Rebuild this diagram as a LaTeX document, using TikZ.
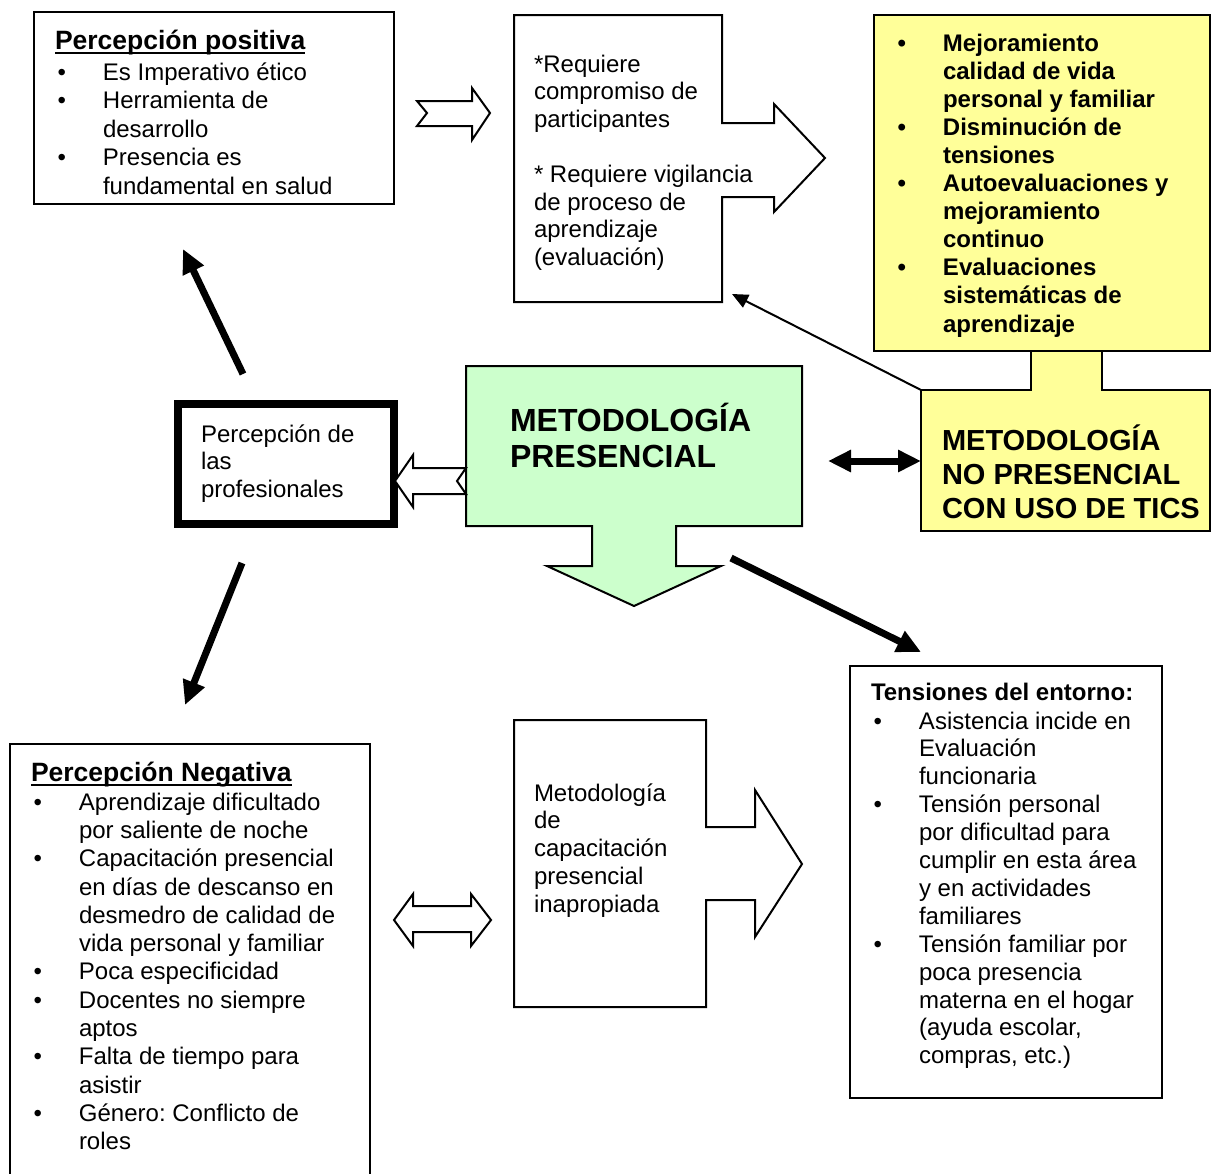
\documentclass[tikz,border=0pt]{standalone}
\usepackage{fontspec}
\setmainfont{Liberation Sans}
\usetikzlibrary{arrows.meta}
\definecolor{ylw}{HTML}{FFFF99}
\definecolor{grn}{HTML}{CCFFCC}
\frenchspacing
\newcommand{\bitem}[1]{\hbox{\llap{\textbullet\hspace{37pt}}#1}}
\newcommand{\citem}[1]{\hbox{#1}}
\newcommand{\blk}[2]{\vtop{\baselineskip=#1\lineskiplimit=-100pt\lineskip=0pt #2}}
\newcommand{\ulttl}[1]{\setbox0=\hbox{#1}\rlap{\rule[-5pt]{\wd0}{2pt}}\box0}
\begin{document}
\begin{tikzpicture}[x=1pt,y=-1pt,line join=miter,
  box/.style={draw,line width=2pt,inner sep=0pt,outer sep=0pt,anchor=north west},
  shp/.style={draw,line width=2pt},
  txt/.style={anchor=base west,inner sep=0pt,outer sep=0pt,font=\fontsize{24}{28}\selectfont},
  thk/.style={line width=7pt,-{Triangle[length=24pt,width=22pt]}},
  thin/.style={line width=2pt,-{Triangle[length=16pt,width=14pt]}}]
\useasboundingbox (0,0) rectangle (1212,1173);
% ---- boxes ----
\node[box,minimum width=360pt,minimum height=192pt] (pos) at (34,12) {};
\node[box,fill=ylw,minimum width=336pt,minimum height=336pt] (ytop) at (874,15) {};
\node[box,line width=8pt,minimum width=216pt,minimum height=120pt] (prof) at (178,404) {};
\node[box,minimum width=360pt,minimum height=436pt] (neg) at (10,744) {};
\node[box,minimum width=312pt,minimum height=432pt] (ten) at (850,666) {};
% ---- callouts ----
\draw[shp] (514,15) coordinate (req) -- (722,15) -- (722,123) -- (774,123) -- (774,104) -- (825,158) -- (774,212) -- (774,197) -- (722,197) -- (722,302) -- (514,302) -- cycle;
\draw[shp] (514,720) coordinate (cap) -- (706,720) -- (706,827) -- (755,827) -- (755,790) -- (802,864) -- (755,937) -- (755,900) -- (706,900) -- (706,1007) -- (514,1007) -- cycle;
\draw[shp,fill=grn] (466,366) coordinate (pres) -- (802,366) -- (802,526) -- (676,526) -- (676,566) -- (721,566) -- (634,606) -- (547,566) -- (592,566) -- (592,526) -- (466,526) -- cycle;
\draw[shp,fill=ylw] (921,390) coordinate (nopres) -- (1031,390) -- (1031,351) -- (1102,351) -- (1102,390) -- (1210,390) -- (1210,531) -- (921,531) -- cycle;
\draw[shp] (ytop.south west) -- (ytop.south east);
% ---- hollow arrows ----
\draw[shp,fill=white] (417,101) coordinate (ha1) -- (472,101) -- (472,88) -- (490,113) -- (472,140) -- (472,126) -- (417,126) -- (427,113) -- cycle;
\draw[shp,fill=white] (395,481) coordinate (ha2) -- (413,455) -- (413,468) -- (466,468) -- (457,481) -- (466,494) -- (413,494) -- (413,507) -- cycle;
\draw[shp,fill=white] (394,920) coordinate (ha3) -- (413,894) -- (413,906) -- (471,906) -- (471,894) -- (491,920) -- (471,946) -- (471,932) -- (413,932) -- (413,946) -- cycle;
% ---- arrow end points ----
\coordinate (a1s) at (243,374); \coordinate (a1e) at (183,249);
\coordinate (a2s) at (242,563); \coordinate (a2e) at (185,705);
\coordinate (a3s) at (731,558); \coordinate (a3e) at (921,652);
\coordinate (a4s) at (828,461); \coordinate (a4e) at (921,461);
\coordinate (a5e) at (732,294);
\draw[thk] (a1s) -- (a1e);
\draw[thk] (a2s) -- (a2e);
\draw[thk] (a3s) -- (a3e);
\draw[line width=7pt,{Triangle[length=23pt,width=21pt]}-{Triangle[length=23pt,width=21pt]}] (a4s) -- (a4e);
\draw[thin] (nopres) -- (a5e);
% ---- texts ----
\node[txt,font=\fontsize{26.5}{30}\selectfont\bfseries] (post) at (55,49) {\ulttl{Percepción positiva}};
\node[txt] (posl) at (103,80) {\blk{28.5pt}{\bitem{Es Imperativo ético}\bitem{Herramienta de}\citem{desarrollo}\bitem{Presencia es}\citem{fundamental en salud}}};
\node[txt] (reqt) at (534,72) {\blk{27.6pt}{\citem{*Requiere}\citem{compromiso de}\citem{participantes}\citem{}\citem{* Requiere vigilancia}\citem{de proceso de}\citem{aprendizaje}\citem{(evaluación)}}};
\node[txt,font=\fontsize{24}{28}\selectfont\bfseries] (ytopt) at (943,51) {\blk{28.1pt}{\bitem{Mejoramiento}\citem{calidad de vida}\citem{personal y familiar}\bitem{Disminución de}\citem{tensiones}\bitem{Autoevaluaciones y}\citem{mejoramiento}\citem{continuo}\bitem{Evaluaciones}\citem{sistemáticas de}\citem{aprendizaje}}};
\node[txt,font=\fontsize{29}{34}\selectfont\bfseries] (nopt) at (942,450) {\blk{34pt}{\citem{METODOLOGÍA}\citem{NO PRESENCIAL}\citem{CON USO DE TICS}}};
\node[txt,font=\fontsize{32}{36}\selectfont\bfseries] (prest) at (510,431) {\blk{36pt}{\citem{METODOLOGÍA}\citem{PRESENCIAL}}};
\node[txt] (proft) at (201,442) {\blk{27.7pt}{\citem{Percepción de}\citem{las}\citem{profesionales}}};
\node[txt,font=\fontsize{26.5}{30}\selectfont\bfseries] (negt) at (31,781) {\ulttl{Percepción Negativa}};
\node[txt] (negl) at (79,810) {\blk{28.33pt}{\bitem{Aprendizaje dificultado}\citem{por saliente de noche}\bitem{Capacitación presencial}\citem{en días de descanso en}\citem{desmedro de calidad de}\citem{vida personal y familiar}\bitem{Poca especificidad}\bitem{Docentes no siempre}\citem{aptos}\bitem{Falta de tiempo para}\citem{asistir}\bitem{Género: Conflicto de}\citem{roles}}};
\node[txt] (capt) at (534,801) {\blk{27.75pt}{\citem{Metodología}\citem{de}\citem{capacitación}\citem{presencial}\citem{inapropiada}}};
\node[txt,font=\fontsize{24}{28}\selectfont\bfseries] (tent) at (871,700) {Tensiones del entorno:};
\node[txt] (tenl) at (919,729) {\blk{27.9pt}{\bitem{Asistencia incide en}\citem{Evaluación}\citem{funcionaria}\bitem{Tensión personal}\citem{por dificultad para}\citem{cumplir en esta área}\citem{y en actividades}\citem{familiares}\bitem{Tensión familiar por}\citem{poca presencia}\citem{materna en el hogar}\citem{(ayuda escolar,}\citem{compras, etc.)}}};
\end{tikzpicture}
\end{document}
